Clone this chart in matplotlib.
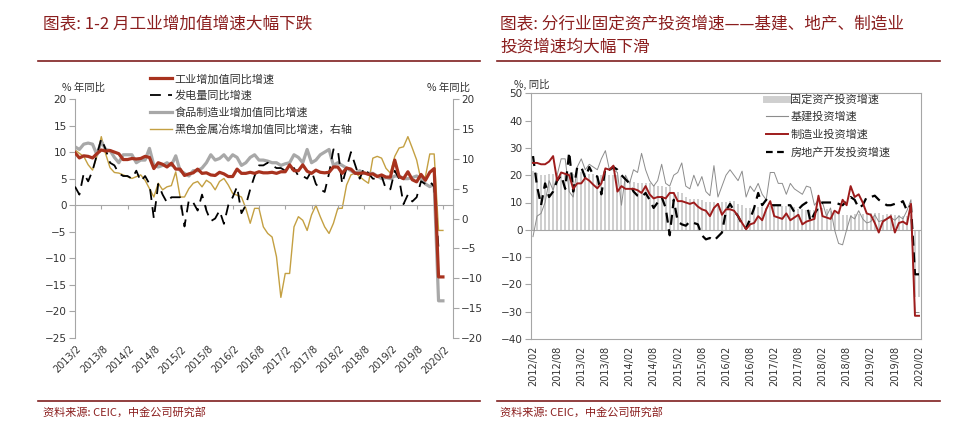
import numpy as np
import pandas as pd
import matplotlib
matplotlib.use('Agg')
import matplotlib.pyplot as plt
from matplotlib.lines import Line2D
import matplotlib.transforms as mtransforms

plt.rcParams['font.family'] = ['DejaVu Sans', 'Noto Sans CJK SC']
CJK = ['Noto Sans CJK SC', 'DejaVu Sans']

# ---------------- Left chart data (2013/2 - 2020/2, monthly) ----------------
left_months = pd.period_range('2013-02', '2020-02', freq='M')
left_tick_labels = ['2013/2', '2013/8', '2014/2', '2014/8', '2015/2', '2015/8', '2016/2',
                    '2016/8', '2017/2', '2017/8', '2018/2', '2018/8', '2019/2', '2019/8', '2020/2']

ind_va = [9.9, 8.9, 9.3, 9.2, 8.9, 9.7, 10.4, 10.2, 10.3, 10.0, 9.7,
          8.6, 8.6, 8.8, 8.7, 8.8, 9.2, 9.0, 6.9, 8.0, 7.7, 7.2, 7.9,
          6.8, 6.8, 5.6, 5.9, 6.1, 6.8, 6.0, 6.1, 5.7, 5.6, 6.2, 5.9,
          5.4, 5.4, 6.8, 6.0, 6.0, 6.2, 6.0, 6.3, 6.1, 6.1, 6.2, 6.0,
          6.3, 6.3, 7.6, 6.5, 6.5, 7.6, 6.4, 6.0, 6.6, 6.2, 6.1, 6.2,
          7.2, 7.2, 6.0, 7.0, 6.8, 6.0, 6.0, 6.1, 5.8, 5.9, 5.4, 5.7,
          5.3, 5.3, 8.5, 5.4, 5.0, 6.3, 4.8, 4.4, 5.8, 4.7, 6.2, 6.9,
          -13.5, -13.5]

power = [3.5, 2.0, 6.0, 4.5, 6.5, 9.5, 12.5, 10.5, 8.0, 7.5, 6.0,
         5.5, 5.5, 5.0, 6.5, 4.5, 5.5, 4.0, -2.5, 4.0, 2.0, 0.5, 1.5,
         1.5, 1.5, -4.0, 1.0, 0.5, -1.0, 2.0, -1.0, -3.0, -2.5, -1.0, -3.5,
         0.0, 1.5, 3.5, -1.5, 0.0, 3.0, 5.5, 7.5, 7.5, 8.0, 7.5, 7.0,
         7.0, 6.5, 6.5, 7.0, 5.5, 5.5, 5.0, 6.5, 4.0, 3.0, 2.5, 6.0,
         10.5, 10.5, 4.0, 7.0, 10.0, 7.5, 5.0, 7.0, 6.0, 5.0, 5.0, 5.5,
         3.0, 3.0, 6.5, 5.0, 0.2, 2.0, 0.7, 1.5, 4.5, 4.0, 4.5, 3.5,
         -8.2, -8.2]

food = [11.0, 10.5, 11.5, 11.7, 11.5, 9.5, 12.0, 10.5, 10.3, 9.0, 8.0,
        9.5, 9.5, 9.5, 8.0, 8.5, 8.5, 10.7, 7.5, 7.2, 7.5, 8.0, 7.5,
        9.3, 6.5, 6.0, 5.5, 6.5, 6.5, 7.0, 8.0, 9.5, 8.5, 8.8, 9.5,
        8.5, 9.5, 9.0, 7.5, 8.0, 9.0, 9.5, 8.5, 8.5, 8.3, 8.0, 8.0,
        7.5, 7.8, 8.0, 9.5, 9.0, 8.0, 10.5, 8.0, 8.5, 9.5, 10.0, 10.5,
        7.5, 8.0, 7.5, 7.0, 6.5, 6.0, 6.5, 6.0, 6.0, 6.0, 5.5, 5.0,
        5.2, 5.0, 5.5, 5.5, 5.0, 5.0, 5.2, 5.5, 5.0, 4.0, 3.5, 4.0,
        -18.0, -18.0]

ferrous = [11.5, 10.9, 10.4, 9.0, 8.1, 10.4, 13.7, 10.8, 8.5, 7.7, 7.6,
           7.3, 7.0, 6.7, 7.0, 7.3, 6.4, 5.0, 3.6, 5.9, 4.8, 5.3, 5.5,
           7.8, 3.6, 3.6, 5.0, 5.9, 6.2, 5.3, 6.4, 5.9, 4.8, 6.2, 6.7,
           5.6, 4.2, 3.9, 3.6, 1.7, -0.8, 1.7, 1.7, -1.4, -2.5, -3.1, -6.4,
           -13.2, -9.2, -9.2, -1.4, 0.3, -0.3, -2.0, 0.6, 2.2, 0.3, -1.4, -2.5,
           -0.8, 1.7, 1.7, 5.6, 7.3, 7.6, 7.0, 6.4, 5.9, 10.1, 10.4, 10.1,
           8.4, 7.6, 10.4, 11.8, 12.0, 13.7, 11.8, 9.8, 6.4, 7.0, 10.8, 10.8,
           -2.0, -2.0]

# ---------------- Right chart data (2012/02 - 2020/02, monthly) ----------------
right_months = pd.period_range('2012-02', '2020-02', freq='M')
right_tick_labels = ['2012/02', '2012/08', '2013/02', '2013/08', '2014/02', '2014/08',
                     '2015/02', '2015/08', '2016/02', '2016/08', '2017/02', '2017/08',
                     '2018/02', '2018/08', '2019/02', '2019/08', '2020/02']

fai = [21.5, 20.9, 20.2, 20.1, 20.4, 20.4, 20.2, 20.5, 20.7, 20.7, 20.6,
       21.2, 21.2, 20.9, 20.6, 20.4, 20.1, 20.1, 20.3, 20.2, 20.1, 19.9, 19.6,
       17.9, 17.9, 17.6, 17.3, 17.2, 17.3, 17.0, 16.5, 16.1, 15.9, 15.8, 15.7,
       13.9, 13.9, 13.5, 12.0, 11.4, 11.4, 11.2, 10.9, 10.3, 10.2, 10.2, 10.0,
       10.2, 10.2, 10.7, 10.5, 9.6, 9.0, 8.1, 8.1, 8.2, 8.3, 8.3, 8.1,
       8.9, 8.9, 9.2, 8.9, 8.6, 8.6, 8.3, 7.8, 7.5, 7.3, 7.2, 7.2,
       7.9, 7.9, 7.5, 7.0, 6.1, 6.0, 5.5, 5.3, 5.4, 5.7, 5.9, 5.9,
       6.1, 6.1, 6.3, 6.1, 5.6, 5.8, 5.7, 5.5, 5.4, 5.2, 5.2, 5.4,
       -24.5, -24.5]

infra = [-2.5, 5, 6, 10, 18, 14.5, 20, 26, 26, 14, 12, 23, 26, 22, 24, 23, 22, 26, 29, 22,
         22, 21, 9, 20, 17, 22, 21, 28, 22, 18, 16, 18, 24, 17, 16, 20, 21, 24.5, 16, 15,
         20, 16, 19.5, 14, 12.5, 23.5, 12, 16, 20, 22, 20, 18, 21.5, 12, 16, 14, 17, 13, 11, 21,
         21, 17, 17, 13, 17, 15, 14, 13, 16, 15.5, 9, 11, 10, 5, 8, 0, -5, -5.5, 0, 5,
         4, 7, 4, 2.5, 3, 5.5, 3, 3.5, 4, 4.5, 3.5, 5, 4, 7, 11, -30.3, -30.3]

manuf = [24.5, 24.5, 24, 24, 25, 27, 18, 21, 20.5, 20, 15, 17, 17, 19, 18, 16.5, 15.2, 17, 22.5, 22,
         23.5, 14, 16, 15, 15, 15, 14.5, 13.5, 16, 13, 11.5, 12, 12, 11.5, 13.5, 13.5, 10.5, 10.5, 10, 9.5,
         10, 8.5, 7.5, 7, 5, 8, 9.5, 5.5, 7.5, 7.5, 7, 5, 2.5, 0.2, 2, 2.5, 5, 3.5, 7.5, 10.5,
         5, 4.5, 4, 6, 3.5, 4.5, 5.5, 2, 3, 3.5, 4, 12.5, 5, 4.5, 4, 7, 6, 11, 9, 16,
         12, 13, 10, 6, 5.5, 2.5, -1, 3, 4, 5, -1, 2.5, 3, 2, 9.5, -31.5, -31.5]

estate = [27, 16, 9, 17, 12, 14, 18, 20, 15, 28.5, 14, 23, 23, 19, 23, 20, 19.5, 13, 22.5, 22,
          23, 22, 20, 18.5, 17, 14, 12.5, 12, 13.5, 11, 8, 10, 12, 8, -2, 11, 3, 2, 1.5, 3,
          2.5, 2, -2, -3.5, -3, -4, -2.5, -1, 7, 9.5, 7, 5, 2, 0.5, 4, 8, 13.5, 9, 11, 9,
          9, 9, 9, 9, 9, 6.5, 7.5, 9, 10, 3, 6, 8, 10, 10, 10, 10, 9.5, 9, 10.5, 12,
          11, 8, 9, 12, 12, 12.5, 11, 10, 9, 9, 9.5, 9.5, 10.5, 7, 9, -16.3, -16.3]

# ---------------- Figure ----------------
W, H = 967, 432
fig = plt.figure(figsize=(W / 100, H / 100), dpi=100)
TITLE_C = '#8B1E1E'
AX_C = '#A6A6A6'
TXT_C = '#333333'

def fx(px):
    return px / W

def fy(py):
    return 1 - py / H

# ---- Left panel ----
axL = fig.add_axes([fx(75), fy(338), fx(378), 239 / H])
xl = np.arange(len(left_months))
axL.set_xlim(0, 86.3)
axL.set_ylim(-25, 20)
axL.set_yticks(np.arange(-25, 21, 5))
axL.plot(xl, food, color='#A8A8A8', lw=2.3, zorder=3, solid_joinstyle='round')
axL.plot(xl, power, color='black', lw=1.3, dashes=(6, 4), zorder=4)
axL.plot(xl, ind_va, color='#A8321E', lw=2.3, zorder=5, solid_joinstyle='round')
axR = axL.twinx()
axR.set_ylim(-20, 20)
axR.set_yticks(np.arange(-20, 21, 5))
axR.plot(xl, ferrous, color='#C4A042', lw=1.0, zorder=2)
axL.set_zorder(axR.get_zorder() + 1)
axL.patch.set_visible(False)

for sp in ['top']:
    axL.spines[sp].set_visible(False)
    axR.spines[sp].set_visible(False)
axR.spines['left'].set_visible(False)
axR.spines['bottom'].set_visible(False)
axL.spines['right'].set_visible(False)
axL.spines['bottom'].set_position(('data', 0))
for sp in [axL.spines['left'], axL.spines['bottom'], axR.spines['right']]:
    sp.set_color(AX_C)
    sp.set_linewidth(0.8)
axL.tick_params(axis='y', direction='out', length=4, color=AX_C, labelsize=7.5, labelcolor=TXT_C, pad=2)
axR.tick_params(axis='y', direction='out', length=4, color=AX_C, labelsize=7.5, labelcolor=TXT_C, pad=2)
tick_pos_L = np.arange(0, len(left_months), 6)
axL.set_xticks(tick_pos_L)
axL.set_xticklabels([])
axL.tick_params(axis='x', direction='out', length=3, color=AX_C)
transL = mtransforms.blended_transform_factory(axL.transData, axL.transAxes)
for p, lab in zip(tick_pos_L, left_tick_labels):
    axL.text(p + 0.3, -0.025, lab, transform=transL, rotation=45, ha='right', va='top',
             rotation_mode='anchor', fontsize=7, color=TXT_C)

handlesL = [Line2D([], [], color='#A8321E', lw=2.3),
            Line2D([], [], color='black', lw=1.3, dashes=(6, 4)),
            Line2D([], [], color='#A8A8A8', lw=2.3),
            Line2D([], [], color='#C4A042', lw=1.0)]
labelsL = ['工业增加值同比增速', '发电量同比增速', '食品制造业增加值同比增速', '黑色金属冶炼增加值同比增速，右轴']
fig.legend(handlesL, labelsL, loc='upper left', bbox_to_anchor=(fx(150), fy(74)), frameon=False,
           prop={'family': CJK, 'size': 8}, handlelength=2.0, handletextpad=0.2,
           labelspacing=0.55, borderaxespad=0, borderpad=0, labelcolor=TXT_C)

fig.text(fx(62), fy(88), '% 年同比', fontsize=7.5, family=CJK, color=TXT_C, va='center')
fig.text(fx(427), fy(88), '% 年同比', fontsize=7.5, family=CJK, color=TXT_C, va='center')

# ---- Right panel ----
ax2 = fig.add_axes([fx(531), fy(339), fx(390), 245.7 / H])
xr = np.arange(len(right_months))
ax2.set_xlim(-0.5, len(right_months) - 0.5)
ax2.set_ylim(-40, 50)
ax2.set_yticks(np.arange(-40, 51, 10))
ax2.bar(xr, fai, width=0.5, color='#CFCFCF', zorder=1)
ax2.axhline(0, color=AX_C, lw=0.8, zorder=1.5)
ax2.plot(xr, infra, color='#8C8C8C', lw=0.7, zorder=2)
ax2.plot(xr, estate, color='black', lw=1.6, dashes=(4.5, 3), zorder=3)
ax2.plot(xr, manuf, color='#9E1C1C', lw=1.4, zorder=4)
for sp in ax2.spines.values():
    sp.set_color(AX_C)
    sp.set_linewidth(0.8)
ax2.tick_params(axis='y', direction='out', length=4, color=AX_C, labelsize=7.5, labelcolor=TXT_C, pad=2)
tick_pos_R = np.arange(0, len(right_months), 6)
ax2.set_xticks(tick_pos_R)
ax2.set_xticklabels(right_tick_labels, rotation=90, fontsize=7, color=TXT_C)
ax2.tick_params(axis='x', length=0, pad=5)

handlesR = [Line2D([], [], color='#CFCFCF', lw=5),
            Line2D([], [], color='#8C8C8C', lw=0.8),
            Line2D([], [], color='#9E1C1C', lw=1.4),
            Line2D([], [], color='black', lw=1.6, dashes=(3, 2))]
labelsR = ['固定资产投资增速', '基建投资增速', '制造业投资增速', '房地产开发投资增速']
fig.legend(handlesR, labelsR, loc='upper left', bbox_to_anchor=(fx(766), fy(94)), frameon=False,
           prop={'family': CJK, 'size': 8}, handlelength=2.0, handletextpad=0.2,
           labelspacing=0.65, borderaxespad=0, borderpad=0, labelcolor=TXT_C)

fig.text(fx(514), fy(84), '%, 同比', fontsize=7.5, family=CJK, color=TXT_C, va='center')

# ---- Titles, rules, sources ----
fig.text(fx(43), fy(24), '图表: 1-2 月工业增加值增速大幅下跌', fontsize=12, family=CJK,
         color=TITLE_C, va='center')
fig.text(fx(500), fy(24), '图表: 分行业固定资产投资增速——基建、地产、制造业', fontsize=12,
         family=CJK, color=TITLE_C, va='center')
fig.text(fx(500), fy(47), '投资增速均大幅下滑', fontsize=12, family=CJK, color=TITLE_C, va='center')
for x0, x1 in [(38, 480), (497, 940)]:
    for yy in [61, 401]:
        fig.add_artist(Line2D([fx(x0), fx(x1)], [fy(yy), fy(yy)], color='#7F1F1F', lw=1.2))
fig.text(fx(43), fy(412), '资料来源: CEIC，中金公司研究部', fontsize=8, family=CJK,
         color=TITLE_C, va='center')
fig.text(fx(500), fy(412), '资料来源: CEIC，中金公司研究部', fontsize=8, family=CJK,
         color=TITLE_C, va='center')

fig.savefig('out.png', dpi=100)
